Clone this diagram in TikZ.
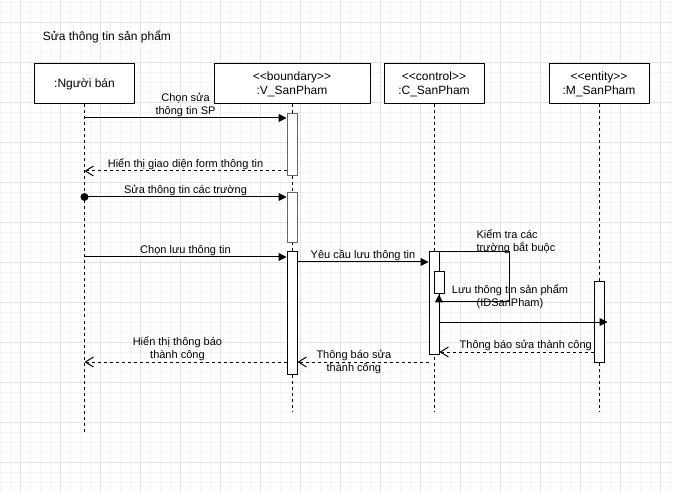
\documentclass[tikz,border=0pt]{standalone}
\usepackage{fontspec}
\setmainfont{Liberation Sans}
\usetikzlibrary{arrows.meta, positioning, calc}

\begin{document}
\begin{tikzpicture}[x=1pt, y=-1pt, line width=1pt,
    lifehead/.style={rectangle, draw=black, fill=white, minimum width=100pt, minimum height=40pt, align=center, font=\fontsize{12}{14}\selectfont},
    actbox/.style={rectangle, draw=black, fill=white, minimum width=10pt, inner sep=0pt},
    lifeline/.style={dash pattern=on 3pt off 3pt},
    call/.style={-{Triangle[length=8pt, width=8pt]}},
    reply/.style={dash pattern=on 3pt off 3pt, -{Straight Barb[length=8pt, width=10pt]}},
    msglabel/.style={font=\fontsize{11}{13}\selectfont, align=center, inner sep=1pt}]

        \useasboundingbox (0,0) rectangle (673,492);

        % Draw the background grid
        \foreach \x in {0,10,...,670} {
            \draw[gray!9, line width=0.5pt] (\x,0) -- (\x,492);
        }
        \foreach \y in {2,12,...,492} {
            \draw[gray!9, line width=0.5pt] (0,\y) -- (673,\y);
        }
        \foreach \x in {20,60,...,660} {
            \draw[gray!22, line width=0.7pt] (\x,0) -- (\x,492);
        }
        \foreach \y in {22,62,...,462} {
            \draw[gray!22, line width=0.7pt] (0,\y) -- (673,\y);
        }

        % Title
        \node[anchor=west, font=\fontsize{12}{14}\selectfont] (title) at (39,37) {Sửa thông tin sản phẩm};

        % Lifeline heads
        \node[lifehead] (seller) at (84.5,84) {:Người bán};
        \node[lifehead, minimum width=156pt] (view) at (292,84) {<\kern0pt<boundary>\kern0pt>\\:V\_SanPham};
        \node[lifehead] (ctrl) at (434,84) {<\kern0pt<control>\kern0pt>\\:C\_SanPham};
        \node[lifehead] (model) at (599,84) {<\kern0pt<entity>\kern0pt>\\:M\_SanPham};

        % Dashed lifelines
        \coordinate (sellerEnd) at (84.5,432);
        \coordinate (viewEnd) at (292,412);
        \coordinate (ctrlEnd) at (434,412);
        \coordinate (modelEnd) at (599,412);
        \draw[lifeline] (seller.south) -- (sellerEnd);
        \draw[lifeline] (view.south) -- (viewEnd);
        \draw[lifeline] (ctrl.south) -- (ctrlEnd);
        \draw[lifeline] (model.south) -- (modelEnd);

        % Activation bars
        \node[actbox, draw=black!60, minimum height=62pt] (V1) at (292,145) {};
        \node[actbox, draw=black!60, minimum height=50pt] (V2) at (292,218) {};
        \node[actbox, minimum height=122pt] (V3) at (292,313) {};
        \node[actbox, minimum height=102pt] (C1) at (434,303) {};
        \node[actbox, minimum height=22pt] (C2) at (439,283) {};
        \node[actbox, minimum height=80pt] (M1) at (599,322) {};

        % Messages
        \draw[call] (seller |- 0,118) -- node[msglabel, above] {Chọn sửa\\thông tin SP} (V1.west |- 0,118);
        \draw[reply] (V1.west |- 0,171) -- node[msglabel, above] {Hiển thị giao diện form thông tin} (seller |- 0,171);
        \node[circle, fill=black, inner sep=0pt, minimum size=8pt] (startDot) at (84.5,197) {};
        \draw[call] (startDot.center) -- node[msglabel, above] {Sửa thông tin các trường} (V2.west |- 0,197);
        \draw[call] (seller |- 0,257) -- node[msglabel, above] {Chọn lưu thông tin} (V3.west |- 0,257);
        \draw[call] (V3.east |- 0,262) -- node[msglabel, above] {Yêu cầu lưu thông tin} (C1.west |- 0,262);

        % Self call on the controller
        \coordinate (selfTurn) at (509,302);
        \draw[call] (C1.north east) -| (selfTurn) -| (C2.south);
        \node[msglabel, align=left, anchor=west] (checkLabel) at (475,242) {Kiểm tra các\\trường bắt buộc};
        \node[msglabel] (saveLabel) at (510,296.5) {Lưu thông tin sản phẩm\\(IDSanPham)};

        \draw[call, shorten >=-3pt] (C1.east |- 0,322) -- (M1.east |- 0,322);
        \draw[reply] (M1.west |- 0,352) -- node[msglabel, above, pos=0.44] {Thông báo sửa thành công} (C1.east |- 0,352);
        \draw[reply] (C1.west |- 0,362) -- node[msglabel, pos=0.57] {Thông báo sửa\\thành công} (V3.east |- 0,362);
        \draw[reply] (V3.west |- 0,362) -- node[msglabel, above, pos=0.54] {Hiển thị thông báo\\thành công} (seller |- 0,362);

\end{tikzpicture}
\end{document}
